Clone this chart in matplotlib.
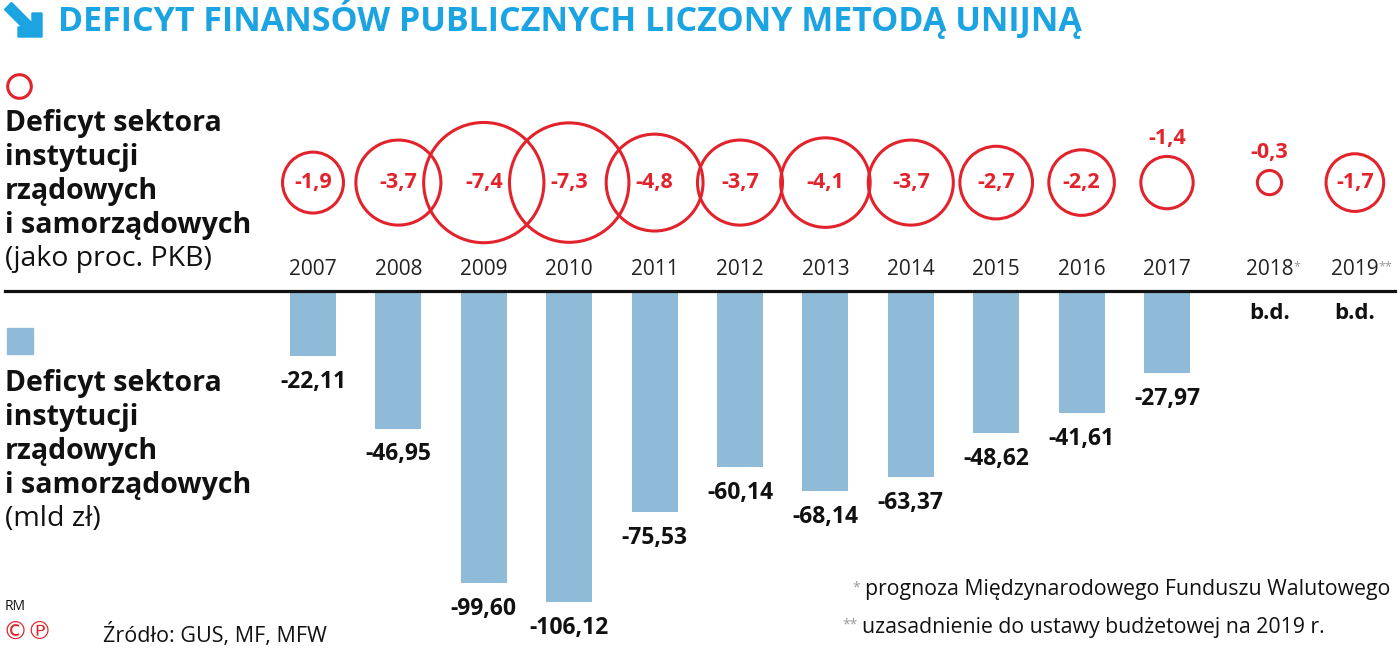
import matplotlib
matplotlib.use("Agg")
import matplotlib.pyplot as plt
from matplotlib.transforms import Affine2D
from matplotlib.patches import Polygon
from matplotlib.lines import Line2D
import numpy as np

plt.rcParams['font.family'] = ['Open Sans', 'DejaVu Sans']

# data
years = ['2007', '2008', '2009', '2010', '2011', '2012', '2013', '2014',
         '2015', '2016', '2017', '2018', '2019']
year_marks = ['', '', '', '', '', '', '', '', '', '', '', '*', '**']
deficit_pct = [-1.9, -3.7, -7.4, -7.3, -4.8, -3.7, -4.1, -3.7, -2.7, -2.2, -1.4, -0.3, -1.7]
deficit_bn = [-22.11, -46.95, -99.60, -106.12, -75.53, -60.14, -68.14, -63.37,
              -48.62, -41.61, -27.97]
missing_label = 'b.d.'

# layout
pos = [0, 1, 2, 3, 4, 5, 6, 7, 8, 9, 10, 11.2, 12.2]
RED = '#e3232c'
BLUE = '#8fbbd8'
TITLE_BLUE = '#1ba3e2'
W, H = 1400, 648

fig = plt.figure(figsize=(14, 6.48), dpi=100)
px = Affine2D().scale(1 / W, -1 / H).translate(0, 1) + fig.transFigure

ax = fig.add_axes([0, 0, 1, 1])
ax.set_xlim(-313 / 85.4, (W - 313) / 85.4)
ax.set_ylim((291 - H) / 2.93, 291 / 2.93)
ax.axis('off')

def fmt(v, nd):
    return f"{v:.{nd}f}".replace('.', ',')

# bars
ax.bar(pos[:len(deficit_bn)], deficit_bn, width=0.54, color=BLUE, zorder=1)
for x, v in zip(pos, deficit_bn):
    ax.annotate(fmt(v, 2), (x, v), xytext=(0, -10), textcoords='offset points',
                ha='center', va='top', fontsize=16.5, fontweight='bold', color='#111111')
for x in pos[len(deficit_bn):]:
    ax.annotate(missing_label, (x, 0), xytext=(0, -16), textcoords='offset points',
                ha='center', va='center', fontsize=16, fontweight='bold', color='#111111')

# baseline
ax.plot([5, 1395], [291, 291], color='#111111', lw=2.3, transform=px, zorder=3)

# circles
circle_y = 37.0
sizes = [1013 * abs(v) for v in deficit_pct]
ax.scatter(pos, [circle_y] * len(pos), s=sizes, facecolors='none', edgecolors=RED,
           linewidths=2.2, zorder=2)
for x, v, s in zip(pos, deficit_pct, sizes):
    if abs(v) >= 1.5:
        ax.text(x, circle_y, fmt(v, 1), ha='center', va='center', fontsize=15.5,
                fontweight='bold', color=RED)
    else:
        r = np.sqrt(s) / 2 + 1.1
        ax.annotate(fmt(v, 1), (x, circle_y), xytext=(0, r + 4), textcoords='offset points',
                    ha='center', va='bottom', fontsize=15.5, fontweight='bold', color=RED)

# year labels
for x, y, m in zip(pos, years, year_marks):
    t = ax.text(x, 7.2, y, ha='center', va='center', fontsize=15, color='#222222')
    if m:
        ax.annotate(m, xy=(1.0, 0.95), xycoords=t, ha='left', va='top',
                    fontsize=9, color='#999999')

# title
arrow = Polygon([(4.5, 9.5), (11.5, 2.5), (32, 23), (32, 13), (42, 13), (42, 37),
                 (18, 37), (18, 27), (22, 27)], closed=True, color=TITLE_BLUE, transform=px)
fig.add_artist(arrow)
fig.text(58, 31, 'DEFICYT FINANSÓW PUBLICZNYCH LICZONY METODĄ UNIJNĄ', transform=px,
         fontsize=24.5, fontweight='bold', color=TITLE_BLUE, va='baseline', ha='left')

# legend: circles
fig.add_artist(Line2D([19], [86], marker='o', markersize=17, markerfacecolor='none',
                      markeredgecolor=RED, markeredgewidth=2.2, transform=px))
legend_lines = ['Deficyt sektora', 'instytucji', 'rządowych', 'i samorządowych']
for i, s in enumerate(legend_lines):
    fig.text(5, 131 + 34 * i, s, transform=px, fontsize=20.5, fontweight='bold',
             color='#111111', va='baseline')
fig.text(5, 266, '(jako proc. PKB)', transform=px, fontsize=20.5, color='#111111',
         va='baseline')

# legend: bars
fig.add_artist(Line2D([20], [341], marker='s', markersize=19, color=BLUE, transform=px))
for i, s in enumerate(legend_lines):
    fig.text(5, 391 + 34 * i, s, transform=px, fontsize=20.5, fontweight='bold',
             color='#111111', va='baseline')
fig.text(5, 526, '(mld zł)', transform=px, fontsize=20.5, color='#111111', va='baseline')

# footnotes
t1 = fig.text(1390, 590, 'prognoza Międzynarodowego Funduszu Walutowego', transform=px,
              fontsize=15.3, color='#111111', ha='right', va='center')
ax.annotate('*', xy=(0, 0.95), xycoords=t1, xytext=(-3, 0), textcoords='offset points',
            ha='right', va='top', fontsize=10, color='#999999')
t2 = fig.text(862, 627, 'uzasadnienie do ustawy budżetowej na 2019 r.', transform=px,
              fontsize=15.3, color='#111111', ha='left', va='center')
ax.annotate('**', xy=(0, 0.95), xycoords=t2, xytext=(-3, 0), textcoords='offset points',
            ha='right', va='top', fontsize=10, color='#999999')
fig.text(103, 635, 'Źródło: GUS, MF, MFW', transform=px, fontsize=15.5, color='#111111',
         ha='left', va='center')
fig.text(5, 606, 'RM', transform=px, fontsize=10, color='#111111', ha='left', va='center')
fig.text(2, 632, '©℗', transform=px, fontsize=18, color=RED, ha='left', va='center',
         family=['DejaVu Sans'])

fig.savefig('out.png', dpi=100, facecolor='white')
